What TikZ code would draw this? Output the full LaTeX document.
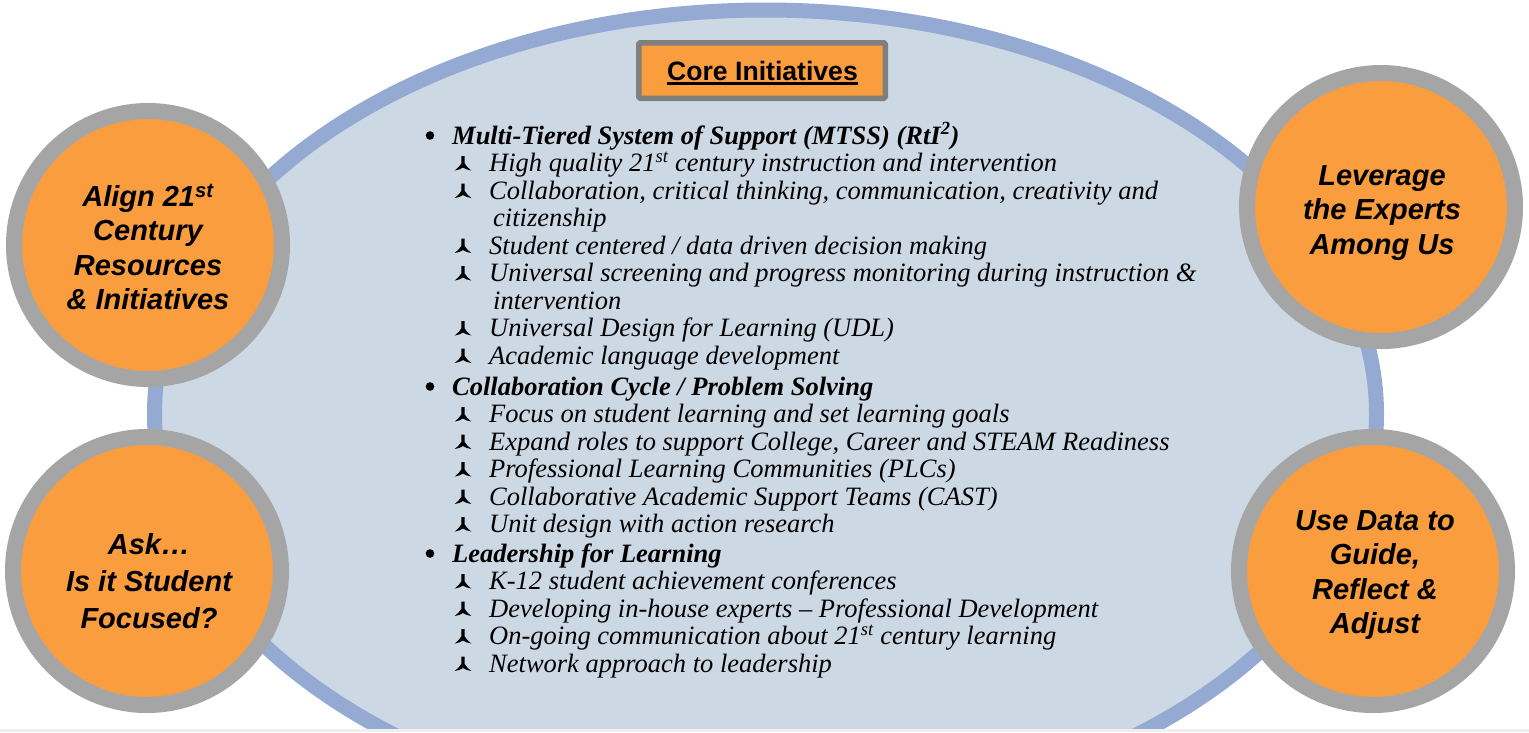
\documentclass[tikz,border=0pt]{standalone}
\usepackage{fontspec}
\setmainfont{Liberation Serif}
\newfontfamily\arialfont{Liberation Sans}
\usetikzlibrary{calc}
\definecolor{ellfill}{HTML}{CDD8E5}
\definecolor{ellline}{HTML}{95AAD2}
\definecolor{orng}{HTML}{F99D3F}
\definecolor{ringgray}{HTML}{A5A5A5}
\definecolor{boxgray}{HTML}{7F7F7F}
\definecolor{stripgray}{HTML}{EFEFEF}
\begin{document}
\begin{tikzpicture}[x=1pt,y=-1pt,
  bubble/.style={circle, draw=ringgray, line width=16pt, fill=orng, minimum size=268pt, inner sep=0pt},
  bubbletext/.style={align=center, inner sep=0pt, font=\arialfont\bfseries\itshape\fontsize{29}{34.5}\selectfont},
  headline/.style={anchor=base west, inner sep=0pt, font=\bfseries\itshape\fontsize{26.5}{27.5}\selectfont},
  itemline/.style={anchor=base west, inner sep=0pt, font=\itshape\fontsize{26.5}{27.5}\selectfont},
  subbul/.pic={\fill (-1.6,-15.5) -- (1.6,-15.5) -- (1.6,-8.2) .. controls (3.2,-5.6) and (5.4,-3) .. (8.3,-1)
      .. controls (5,-1.4) and (2.4,-2.4) .. (0,-4)
      .. controls (-2.4,-2.4) and (-5,-1.4) .. (-8.3,-1)
      .. controls (-5.4,-3) and (-3.2,-5.6) .. (-1.6,-8.2) -- cycle;},
  bulletdot/.pic={\fill (0,-8.5) circle (4.3);}
]
\useasboundingbox (0,0) rectangle (1529,732);
\fill[white] (0,0) rectangle (1529,732);
% big ellipse
\begin{scope}
\clip (0,0) rectangle (1529,729);
\draw[fill=ellfill, draw=ellline, line width=15pt] (765.5,414) ellipse [x radius=611, y radius=404];
\end{scope}
\fill[stripgray] (0,729) rectangle (1529,732);
% title box
\node[draw=boxgray, line width=5.5pt, fill=orng, minimum width=246.5pt, minimum height=55.5pt, rounded corners=1.5pt, inner sep=0pt] (titlebox) at (762,70.5) {};
\node[anchor=base, inner sep=0pt, font=\arialfont\bfseries\fontsize{26.6}{30}\selectfont] (title) at (762.5,80) {Core Initiatives};
\draw[line width=2.8pt] ($(title.base west)+(0,3.3)$) -- ($(title.base east)+(0,3.3)$);
% bubbles
\node[bubble] (c1) at (148,245) {};
\node[bubble] (c2) at (1381,207) {};
\node[bubble] (c3) at (147,571) {};
\node[bubble] (c4) at (1373,571) {};
\node[bubbletext] (t1) at (148,247) {Align 21\textsuperscript{st}\\Century\\Resources\\\& Initiatives};
\node[bubbletext] (t2) at (1382,213) {Leverage\\the Experts\\Among Us};
\node[bubbletext, font=\arialfont\bfseries\itshape\fontsize{29}{37}\selectfont] (t3) at (149,581) {Ask…\\Is it Student\\Focused?};
\node[bubbletext] (t4) at (1375,575) {Use Data to\\Guide,\\Reflect \&\\Adjust};
% list
\pic at (430,144) {bulletdot};
\node[headline] (h1) at (452,144) {Multi-Tiered System of Support (MTSS) (RtI\textsuperscript{2})};
\pic at (463,171.5) {subbul};
\node[itemline] (i1) at (489,171.5) {High quality 21\textsuperscript{st} century instruction and intervention};
\pic at (463,199) {subbul};
\node[itemline] (i2) at (489,199) {Collaboration, critical thinking, communication, creativity and};
\node[itemline] (i2b) at (493,226.5) {citizenship};
\pic at (463,254) {subbul};
\node[itemline] (i3) at (489,254) {Student centered / data driven decision making};
\pic at (463,281.5) {subbul};
\node[itemline] (i4) at (489,281.5) {Universal screening and progress monitoring during instruction \&};
\node[itemline] (i4b) at (493,309) {intervention};
\pic at (463,336.5) {subbul};
\node[itemline] (i5) at (489,336.5) {Universal Design for Learning (UDL)};
\pic at (463,364) {subbul};
\node[itemline] (i6) at (489,364) {Academic language development};
\pic at (430,395) {bulletdot};
\node[headline] (h2) at (452,395) {Collaboration Cycle / Problem Solving};
\pic at (463,422.5) {subbul};
\node[itemline] (i7) at (489,422.5) {Focus on student learning and set learning goals};
\pic at (463,450) {subbul};
\node[itemline] (i8) at (489,450) {Expand roles to support College, Career and STEAM Readiness};
\pic at (463,477.5) {subbul};
\node[itemline] (i9) at (489,477.5) {Professional Learning Communities (PLCs)};
\pic at (463,505) {subbul};
\node[itemline] (i10) at (489,505) {Collaborative Academic Support Teams (CAST)};
\pic at (463,532.5) {subbul};
\node[itemline] (i11) at (489,532.5) {Unit design with action research};
\pic at (430,562) {bulletdot};
\node[headline] (h3) at (452,562) {Leadership for Learning};
\pic at (463,589.5) {subbul};
\node[itemline] (i12) at (489,589.5) {K-12 student achievement conferences};
\pic at (463,617) {subbul};
\node[itemline] (i13) at (489,617) {Developing in-house experts -- Professional Development};
\pic at (463,644.5) {subbul};
\node[itemline] (i14) at (489,644.5) {On-going communication about 21\textsuperscript{st} century learning};
\pic at (463,672) {subbul};
\node[itemline] (i15) at (489,672) {Network approach to leadership};
\end{tikzpicture}
\end{document}
